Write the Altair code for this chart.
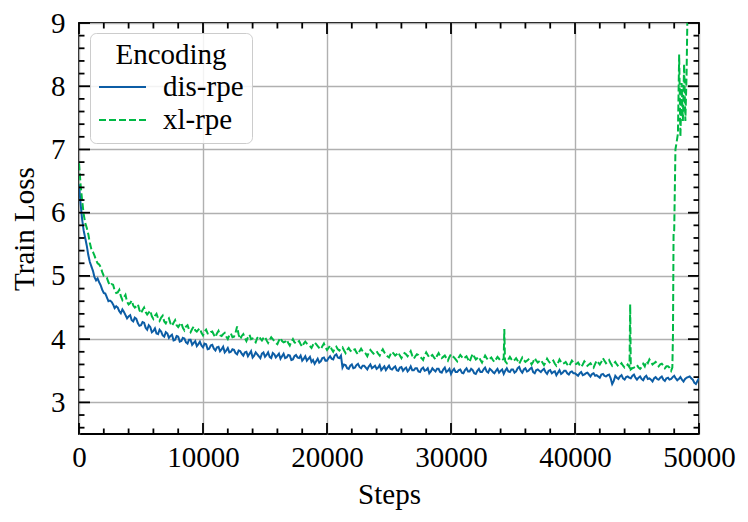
import altair as alt
import pandas as pd

# ---------------- data ----------------
dis_steps = list(range(0, 50001, 250))
dis_loss = [
    6.45, 5.90, 5.60, 5.33, 5.15, 4.98, 4.96, 4.85, 4.73, 4.66,
    4.61, 4.55, 4.52, 4.44, 4.47, 4.38, 4.36, 4.30, 4.34, 4.25,
    4.22, 4.26, 4.15, 4.19, 4.13, 4.09, 4.15, 4.06, 4.11, 4.02,
    4.07, 3.99, 4.04, 3.97, 4.01, 3.93, 3.99, 3.94, 3.89, 3.96,
    3.87, 3.92, 3.85, 3.91, 3.82, 3.88, 3.84, 3.79, 3.86, 3.80,
    3.83, 3.76, 3.81, 3.74, 3.80, 3.77, 3.71, 3.79, 3.73, 3.77,
    3.72, 3.79, 3.70, 3.76, 3.74, 3.69, 3.77, 3.71, 3.74, 3.68,
    3.75, 3.70, 3.66, 3.73, 3.69, 3.64, 3.61, 3.69, 3.65, 3.71,
    3.66, 3.73, 3.68, 3.76, 3.70, 3.55, 3.59, 3.53, 3.60, 3.55,
    3.61, 3.54, 3.58, 3.52, 3.60, 3.56, 3.53, 3.59, 3.54, 3.51,
    3.58, 3.52, 3.57, 3.50, 3.56, 3.53, 3.49, 3.57, 3.51, 3.54,
    3.48, 3.55, 3.51, 3.46, 3.54, 3.49, 3.53, 3.47, 3.55, 3.50,
    3.45, 3.53, 3.48, 3.52, 3.46, 3.54, 3.49, 3.51, 3.45, 3.53,
    3.48, 3.55, 3.47, 3.51, 3.46, 3.53, 3.50, 3.45, 3.54, 3.48,
    3.52, 3.49, 3.56, 3.47, 3.54, 3.50, 3.55, 3.46, 3.52, 3.48,
    3.53, 3.45, 3.51, 3.48, 3.43, 3.51, 3.47, 3.50, 3.44, 3.49,
    3.46, 3.42, 3.48, 3.44, 3.47, 3.41, 3.46, 3.43, 3.39, 3.45,
    3.41, 3.44, 3.29, 3.42, 3.37, 3.43, 3.36, 3.41, 3.38, 3.44,
    3.36, 3.41, 3.35, 3.42, 3.38, 3.33, 3.40, 3.36, 3.41, 3.34,
    3.39, 3.37, 3.42, 3.35, 3.40, 3.33, 3.39, 3.41, 3.36, 3.29,
    3.38,
]
dis_steps_mid = list(range(125, 50000, 250))
dis_loss_mid = [
    6.15, 5.72, 5.48, 5.22, 5.08, 4.93, 4.90, 4.78, 4.72, 4.60,
    4.59, 4.49, 4.50, 4.41, 4.43, 4.33, 4.38, 4.28, 4.32, 4.21,
    4.27, 4.18, 4.22, 4.11, 4.17, 4.08, 4.12, 4.04, 4.09, 4.05,
    3.98, 4.05, 3.96, 4.02, 3.95, 3.99, 3.91, 3.97, 3.92, 3.90,
    3.93, 3.84, 3.90, 3.85, 3.87, 3.81, 3.88, 3.82, 3.79, 3.84,
    3.78, 3.82, 3.77, 3.79, 3.73, 3.81, 3.74, 3.76, 3.70, 3.79,
    3.75, 3.72, 3.78, 3.71, 3.77, 3.73, 3.70, 3.75, 3.67, 3.73,
    3.71, 3.74, 3.69, 3.66, 3.72, 3.67, 3.65, 3.63, 3.70, 3.66,
    3.70, 3.69, 3.74, 3.71, 3.74, 3.60, 3.54, 3.58, 3.54, 3.59,
    3.56, 3.58, 3.55, 3.57, 3.54, 3.58, 3.55, 3.51, 3.57, 3.55,
    3.53, 3.55, 3.51, 3.55, 3.50, 3.55, 3.52, 3.51, 3.54, 3.49,
    3.53, 3.50, 3.54, 3.49, 3.51, 3.53, 3.48, 3.52, 3.48, 3.53,
    3.50, 3.48, 3.51, 3.47, 3.51, 3.49, 3.53, 3.46, 3.50, 3.48,
    3.52, 3.49, 3.53, 3.48, 3.50, 3.47, 3.52, 3.50, 3.49, 3.52,
    3.47, 3.54, 3.50, 3.52, 3.49, 3.53, 3.48, 3.51, 3.50, 3.51,
    3.48, 3.50, 3.46, 3.49, 3.47, 3.45, 3.50, 3.46, 3.48, 3.46,
    3.44, 3.46, 3.43, 3.46, 3.44, 3.45, 3.42, 3.41, 3.44, 3.42,
    3.43, 3.38, 3.34, 3.39, 3.41, 3.38, 3.40, 3.39, 3.42, 3.39,
    3.39, 3.37, 3.40, 3.37, 3.36, 3.38, 3.37, 3.39, 3.36, 3.38,
    3.36, 3.40, 3.38, 3.37, 3.36, 3.37, 3.40, 3.38, 3.31, 3.34,
]

xl_steps_regular = list(range(0, 47751, 250))
xl_loss_regular = [
    6.78, 6.20, 5.84, 5.66, 5.42, 5.32, 5.20, 5.14, 5.00, 4.97,
    4.85, 4.86, 4.73, 4.78, 4.62, 4.70, 4.55, 4.61, 4.50, 4.55,
    4.41, 4.50, 4.39, 4.45, 4.32, 4.40, 4.29, 4.37, 4.25, 4.33,
    4.21, 4.30, 4.19, 4.26, 4.14, 4.22, 4.11, 4.20, 4.12, 4.17,
    4.06, 4.15, 4.08, 4.12, 4.03, 4.13, 4.05, 4.10, 4.00, 4.09,
    4.04, 4.20, 4.00, 4.08, 3.97, 4.07, 4.01, 3.95, 4.05, 3.98,
    4.04, 3.94, 4.03, 3.97, 3.92, 4.02, 3.95, 3.99, 3.90, 4.00,
    3.93, 3.97, 3.88, 3.96, 3.91, 3.86, 3.95, 3.89, 3.84, 3.93,
    3.83, 3.90, 3.80, 3.88, 3.82, 3.87, 3.78, 3.86, 3.80, 3.84,
    3.76, 3.85, 3.79, 3.73, 3.83, 3.77, 3.81, 3.74, 3.84, 3.76,
    3.71, 3.80, 3.74, 3.79, 3.70, 3.78, 3.73, 3.81, 3.69, 3.76,
    3.72, 3.67, 3.79, 3.71, 3.75, 3.68, 3.78, 3.70, 3.74, 3.66,
    3.76, 3.71, 3.65, 3.75, 3.69, 3.73, 3.64, 3.77, 3.68, 3.72,
    3.63, 3.74, 3.67, 3.71, 3.64, 3.72, 3.66, 3.69, 3.62, 3.72,
    3.65, 3.70, 3.61, 3.71, 3.64, 3.68, 3.60, 3.70, 3.63, 3.67,
    3.59, 3.69, 3.62, 3.66, 3.58, 3.68, 3.61, 3.64, 3.57, 3.66,
    3.60, 3.63, 3.56, 3.65, 3.58, 3.62, 3.55, 3.66, 3.60, 3.70,
    3.62, 3.67, 3.58, 3.64, 3.57, 3.62, 3.55, 3.60, 3.52, 3.55,
    3.59, 3.53, 3.61, 3.65, 3.68, 3.60, 3.64, 3.57, 3.61, 3.54,
    3.57, 3.50,
]
xl_steps_mid = list(range(125, 47751, 250))
xl_loss_mid = [
    6.45, 5.98, 5.76, 5.52, 5.38, 5.25, 5.18, 5.06, 4.99, 4.90,
    4.87, 4.77, 4.74, 4.68, 4.66, 4.59, 4.57, 4.53, 4.52, 4.46,
    4.46, 4.43, 4.42, 4.36, 4.37, 4.33, 4.34, 4.28, 4.30, 4.25,
    4.26, 4.22, 4.23, 4.18, 4.20, 4.15, 4.16, 4.14, 4.15, 4.10,
    4.12, 4.09, 4.11, 4.07, 4.09, 4.06, 4.08, 4.04, 4.06, 4.03,
    4.10, 4.07, 4.05, 4.02, 4.03, 4.00, 3.98, 4.02, 4.01, 4.02,
    3.98, 3.99, 4.00, 3.94, 3.98, 3.97, 3.96, 3.94, 3.96, 3.95,
    3.95, 3.92, 3.93, 3.93, 3.89, 3.91, 3.92, 3.86, 3.89, 3.87,
    3.86, 3.84, 3.85, 3.84, 3.85, 3.82, 3.83, 3.82, 3.83, 3.79,
    3.81, 3.81, 3.77, 3.79, 3.80, 3.79, 3.77, 3.80, 3.79, 3.73,
    3.76, 3.77, 3.76, 3.74, 3.75, 3.76, 3.77, 3.74, 3.73, 3.75,
    3.70, 3.74, 3.75, 3.73, 3.71, 3.74, 3.73, 3.72, 3.70, 3.72,
    3.73, 3.68, 3.71, 3.72, 3.71, 3.68, 3.71, 3.72, 3.70, 3.67,
    3.69, 3.70, 3.69, 3.67, 3.68, 3.69, 3.67, 3.65, 3.68, 3.68,
    3.67, 3.66, 3.66, 3.67, 3.66, 3.65, 3.64, 3.66, 3.65, 3.63,
    3.63, 3.65, 3.64, 3.61, 3.62, 3.64, 3.62, 3.60, 3.61, 3.63,
    3.61, 3.59, 3.60, 3.62, 3.60, 3.58, 3.61, 3.63, 3.64, 3.66,
    3.64, 3.62, 3.61, 3.60, 3.59, 3.58, 3.57, 3.56, 3.54, 3.56,
    3.55, 3.56, 3.57, 3.62, 3.64, 3.62, 3.61, 3.60, 3.58, 3.57,
    3.55,
]
xl_steps_extra = [34300, 34350, 44400, 44450,
                  47850, 47900, 47950, 48000, 48100, 48200, 48300, 48400,
                  48500, 48600, 48700, 48800, 48900, 49000, 49100]
xl_loss_extra = [4.16, 3.69, 3.62, 4.55,
                 3.55, 4.05, 5.70, 5.72, 7.00, 7.12, 7.25, 8.50,
                 7.20, 8.05, 7.45, 8.35, 7.45, 8.20, 9.60]

series_names = ["dis-rpe", "xl-rpe"]
series_colors = ["#0C5DA5", "#00B945"]

x_major = [0, 10000, 20000, 30000, 40000, 50000]
x_minor = [2000, 4000, 6000, 8000, 12000, 14000, 16000, 18000, 22000, 24000,
           26000, 28000, 32000, 34000, 36000, 38000, 42000, 44000, 46000, 48000]
y_major = [3, 4, 5, 6, 7, 8, 9]
y_minor = [2.6, 2.8, 3.2, 3.4, 3.6, 3.8, 4.2, 4.4, 4.6, 4.8, 5.2, 5.4, 5.6, 5.8,
           6.2, 6.4, 6.6, 6.8, 7.2, 7.4, 7.6, 7.8, 8.2, 8.4, 8.6, 8.8]

# ---------------- tables ----------------
df_dis = pd.DataFrame({"step": dis_steps + dis_steps_mid,
                       "loss": dis_loss + dis_loss_mid,
                       "Encoding": "dis-rpe"}).sort_values("step")
df_xl = pd.DataFrame({"step": xl_steps_regular + xl_steps_mid + xl_steps_extra,
                      "loss": xl_loss_regular + xl_loss_mid + xl_loss_extra,
                      "Encoding": "xl-rpe"}).sort_values("step")
df = pd.concat([df_dis, df_xl], ignore_index=True)
df["order"] = df["step"]

FONT = "Liberation Serif"
FS = 29
W, H = 620, 411

xs = alt.Scale(domain=[0, 50000], nice=False, zero=False)
ys = alt.Scale(domain=[2.5, 9], nice=False, zero=False)

lines = alt.Chart(df).mark_line(clip=True, strokeWidth=2.0).encode(
    x=alt.X("step:Q", scale=xs,
            axis=alt.Axis(values=x_major, title="Steps", grid=True, ticks=False, tickSize=0,
                          domain=False, labelFont=FONT, labelFontSize=FS, labelColor="black",
                          labelPadding=32, labelBaseline="alphabetic", labelFlush=False,
                          format="d", titleFont=FONT, titleFontSize=FS, titleFontWeight="normal",
                          titleColor="black", titleBaseline="alphabetic", titleY=69,
                          gridColor="#b0b0b0", gridWidth=1.4)),
    y=alt.Y("loss:Q", scale=ys,
            axis=alt.Axis(values=y_major, title="Train Loss", grid=True, ticks=False, tickSize=0,
                          domain=False, labelFont=FONT, labelFontSize=FS, labelColor="black",
                          labelPadding=14, labelFlush=False, format="d",
                          titleFont=FONT, titleFontSize=FS, titleFontWeight="normal",
                          titleColor="black", titleX=-40, titleY=H / 2,
                          gridColor="#b0b0b0", gridWidth=1.4)),
    color=alt.Color("Encoding:N", scale=alt.Scale(domain=series_names, range=series_colors),
                    legend=alt.Legend(orient="none", legendX=11, legendY=10,
                                      title="Encoding", titleFont=FONT, titleFontSize=FS,
                                      titleFontWeight="normal", titleColor="black",
                                      titleAnchor="middle", titlePadding=5,
                                      labelFont=FONT, labelFontSize=FS, labelColor="black",
                                      labelOffset=16, symbolType="stroke", symbolSize=2209,
                                      symbolStrokeWidth=2, clipHeight=24, rowPadding=4,
                                      padding=8, strokeColor="#cccccc", cornerRadius=6,
                                      fillColor="rgba(255,255,255,0.85)")),
    strokeDash=alt.StrokeDash("Encoding:N",
                              scale=alt.Scale(domain=series_names, range=[[1, 0], [7, 3]]),
                              legend=None),
    order="order:Q",
)

tick_color = "black"
tw = 1.8
df_xmaj = pd.DataFrame({"v": x_major})
df_xmin = pd.DataFrame({"v": x_minor})
df_ymaj = pd.DataFrame({"v": y_major})
df_ymin = pd.DataFrame({"v": y_minor})

def xticks(d, length):
    bottom = alt.Chart(d).mark_rule(color=tick_color, strokeWidth=tw).encode(
        x=alt.X("v:Q", scale=xs), y=alt.value(H), y2=alt.value(H - length))
    top = alt.Chart(d).mark_rule(color=tick_color, strokeWidth=tw).encode(
        x=alt.X("v:Q", scale=xs), y=alt.value(0), y2=alt.value(length))
    return bottom + top

def yticks(d, length):
    left = alt.Chart(d).mark_rule(color=tick_color, strokeWidth=tw).encode(
        y=alt.Y("v:Q", scale=ys), x=alt.value(0), x2=alt.value(length))
    right = alt.Chart(d).mark_rule(color=tick_color, strokeWidth=tw).encode(
        y=alt.Y("v:Q", scale=ys), x=alt.value(W), x2=alt.value(W - length))
    return left + right

chart = alt.layer(
    lines,
    xticks(df_xmaj, 11), xticks(df_xmin, 5.5),
    yticks(df_ymaj, 11), yticks(df_ymin, 5.5),
).properties(
    width=W, height=H,
    autosize=alt.AutoSizeParams(type="none"),
    padding={"left": 71, "top": 15, "right": 40, "bottom": 80},
    background="white",
).configure_view(
    stroke="black", strokeWidth=1.8
)

chart.save("out.html", embed_options={"renderer": "svg", "actions": False})
